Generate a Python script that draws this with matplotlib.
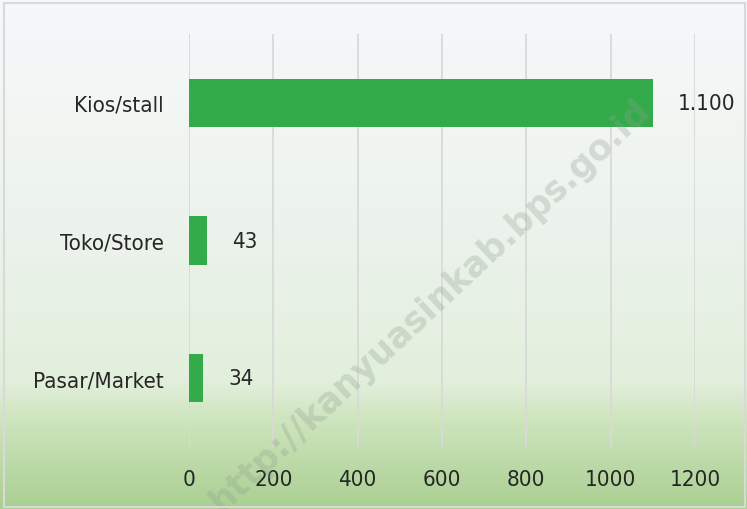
import numpy as np
import matplotlib
matplotlib.use('Agg')
import matplotlib.pyplot as plt
from matplotlib.patches import Rectangle

# data
categories = ['Kios/stall', 'Toko/Store', 'Pasar/Market']
values = [1100, 43, 34]
value_labels = ['1.100', '43', '34']
xticks = [0, 200, 400, 600, 800, 1000, 1200]

plt.rcParams['font.family'] = ['DejaVu Sans']
plt.rcParams['font.stretch'] = 'condensed'

fig = plt.figure(figsize=(7.47, 5.10), dpi=100)

# background gradient, whitish at the top to light green at the bottom
bg = fig.add_axes([0, 0, 1, 1], zorder=0)
stops = [0.0, 0.45, 0.75, 0.83, 1.0]
cols = np.array([[246, 248, 250], [236, 243, 236], [226, 239, 220],
                 [205, 228, 188], [170, 207, 146]]) / 255.0
yy = np.linspace(0, 1, 510)
grad = np.stack([np.interp(yy, stops, cols[:, i]) for i in range(3)], axis=1)
bg.imshow(grad[:, None, :], aspect='auto', extent=[0, 1, 0, 1], origin='upper')
bg.set_axis_off()

ax = fig.add_axes([189 / 747, 1 - 448 / 510, 506 / 747, 413 / 510], zorder=1)
ax.patch.set_alpha(0)

y = np.arange(len(categories))
ax.barh(y, values, height=0.35, color='#34ab4a', zorder=3)
ax.set_ylim(len(categories) - 0.5, -0.5)
ax.set_xlim(0, 1200)
ax.set_xticks(xticks)
ax.set_yticks(y)
ax.set_yticklabels(categories)
ax.grid(axis='x', color='#d9d9d9', linewidth=1.3, zorder=0)
ax.tick_params(length=0, labelsize=16, colors='#262626')
ax.tick_params(axis='x', pad=16)
ax.tick_params(axis='y', pad=18)
for s in ax.spines.values():
    s.set_visible(False)

for yi, v, lab in zip(y, values, value_labels):
    ax.annotate(lab, (v, yi), xytext=(18, 0), textcoords='offset points',
                va='center', ha='left', fontsize=16, color='#262626', zorder=4)

# watermark (runs off the bottom edge like in the reference)
fig.text(0.575, 0.40, 'http://kanyuasinkab.bps.go.id', rotation=43,
         ha='center', va='center', fontsize=25, fontweight='bold',
         fontstretch='normal', color='#8fa08f', alpha=0.3,
         family='DejaVu Sans', zorder=5)

# outer border
fig.patches.append(Rectangle((4 / 747, 2 / 510), 741 / 747, 504 / 510,
                             transform=fig.transFigure, fill=False,
                             edgecolor='#d9d9d9', linewidth=1.5, zorder=6))

fig.savefig('out.png', dpi=100)
